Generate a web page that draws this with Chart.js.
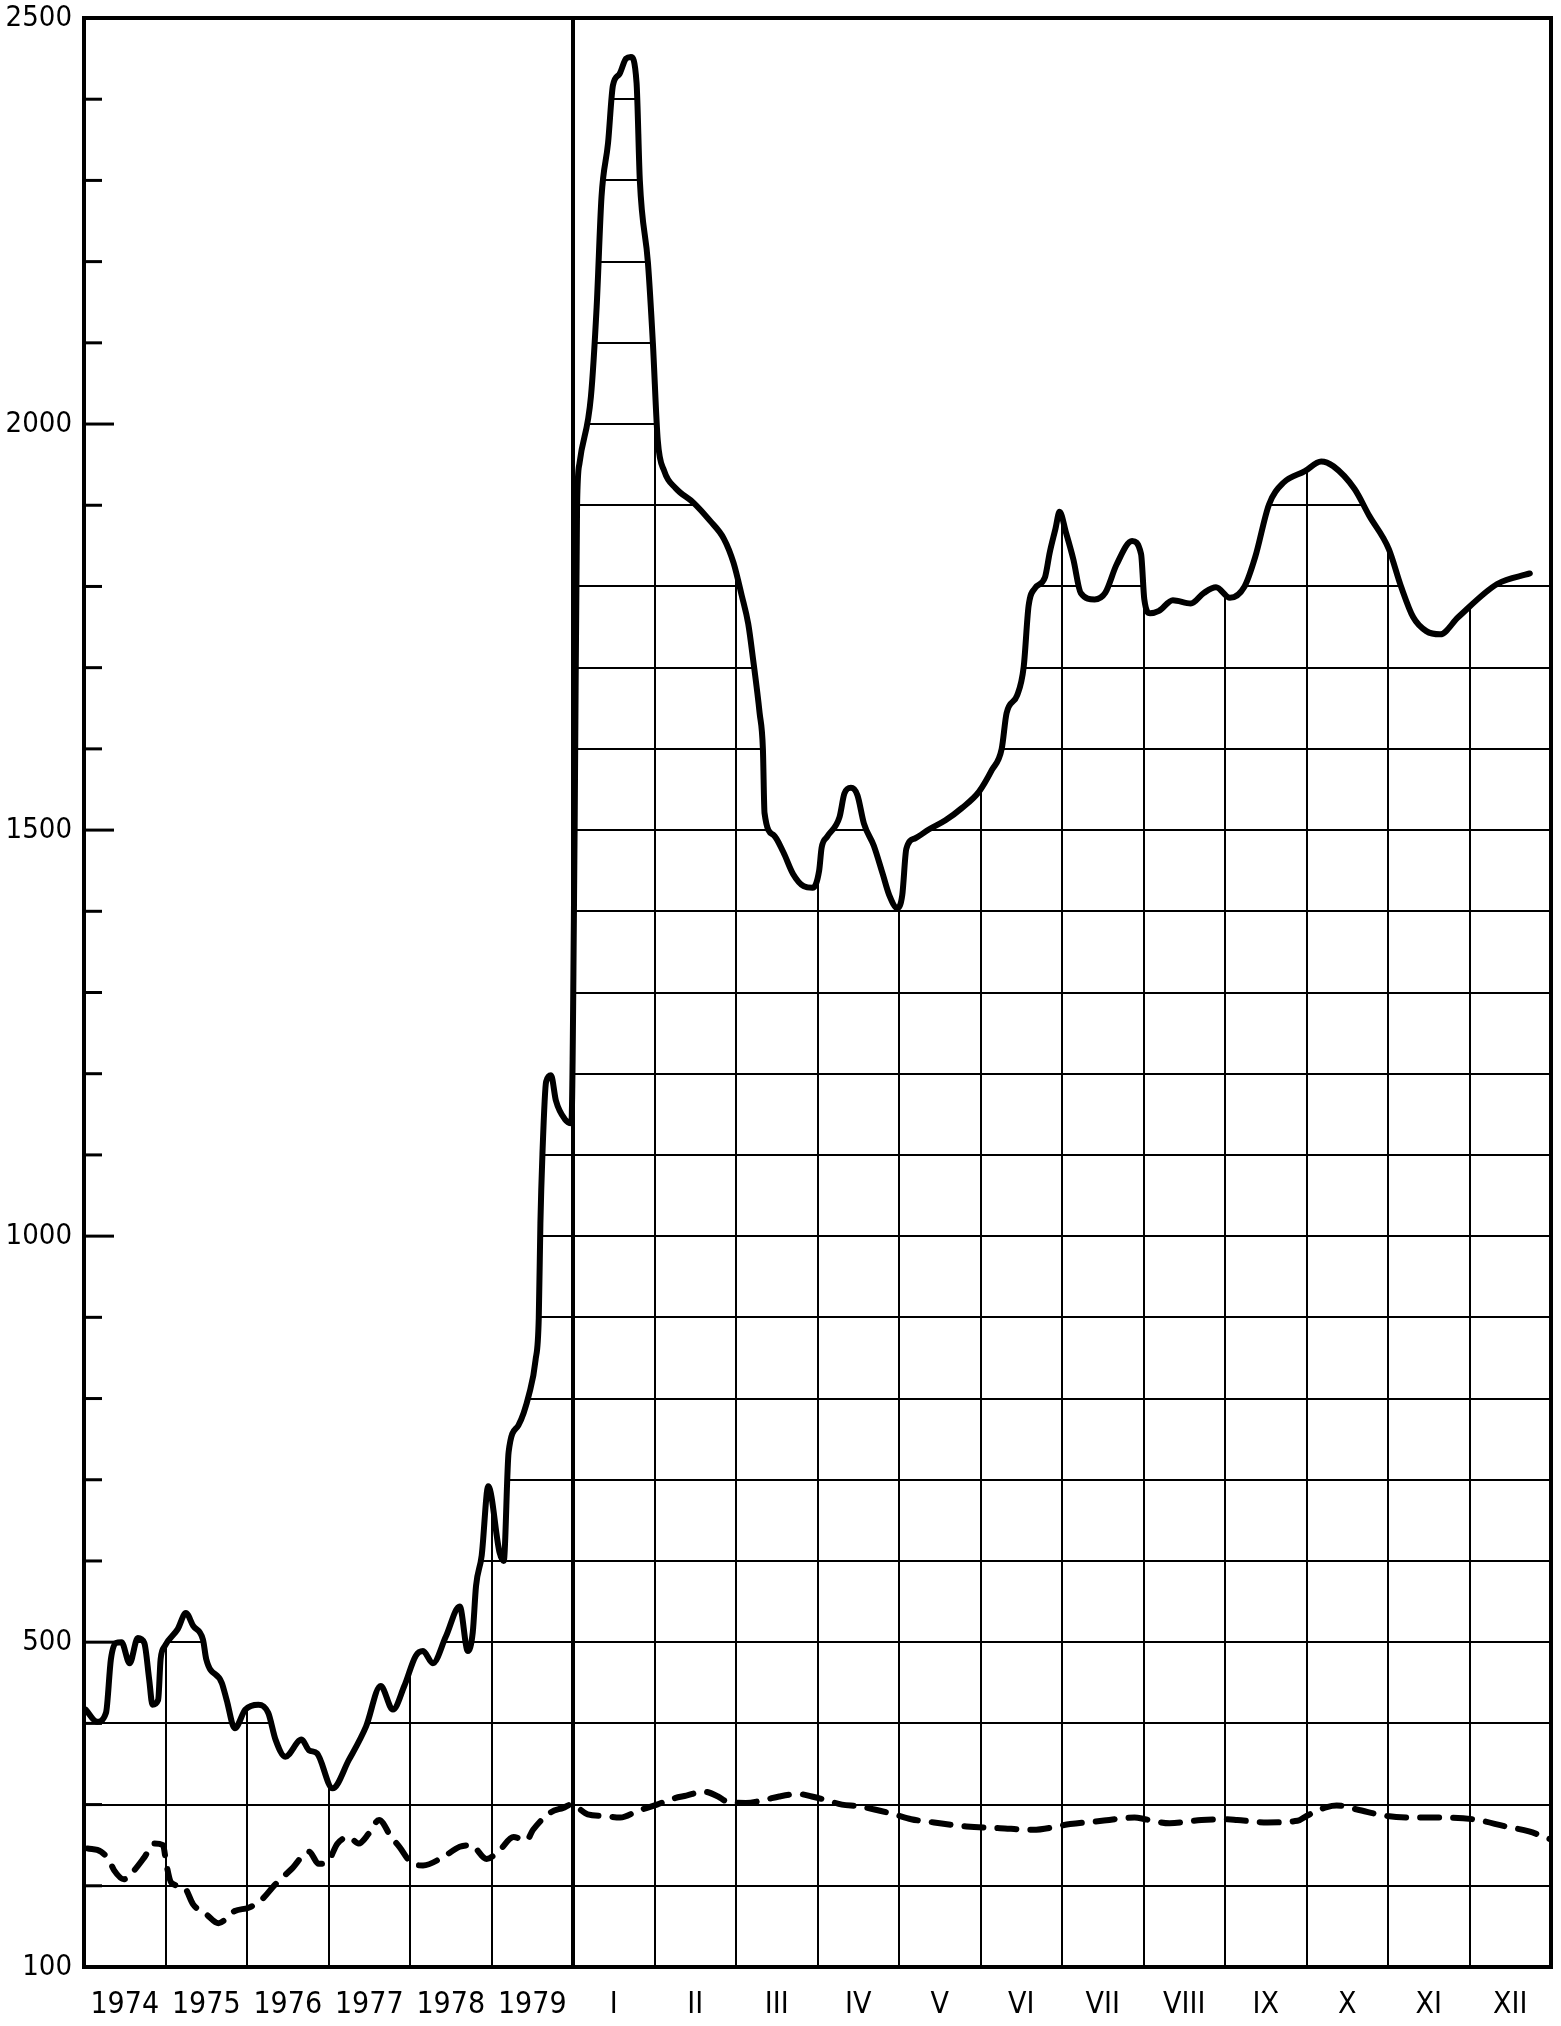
<!doctype html>
<html>
<head>
  <meta charset="utf-8">
  <title>1974–1979 and monthly curve</title>
  <script src="https://cdn.jsdelivr.net/npm/chart.js@4.4.1/dist/chart.umd.min.js"></script>
  <style>
    body{margin:0;background:#fff;}
    #chart{display:block;}
  </style>
</head>
<body>
<canvas id="chart" width="1561" height="2026"></canvas>

<script>
// ---- categories / tick labels ----
const yearLabels  = ['1974','1975','1976','1977','1978','1979'];
const monthLabels = ['I','II','III','IV','V','VI','VII','VIII','IX','X','XI','XII'];
const xLabels     = yearLabels.concat(monthLabels);          // one column each
const yLabels     = [100, 500, 1000, 1500, 2000, 2500];

// ---- solid curve (x = column position, 0..18) ----
const solidCol = [
  0.02,0.16,0.27,0.33,0.39,0.46,0.56,0.66,0.74,0.80,0.84,0.91,0.94,0.99,
  1.15,1.25,1.34,1.46,1.50,1.69,1.75,1.85,1.98,2.14,2.26,2.35,2.47,2.67,
  2.76,2.86,3.05,3.25,3.46,3.64,3.79,3.93,4.07,4.16,4.28,4.44,4.61,4.71,
  4.77,4.81,4.88,4.96,5.10,5.15,5.21,5.33,5.46,5.54,5.58,5.60,5.625,5.67,
  5.73,5.79,5.90,5.98,
  6.02,6.05,6.08,6.22,6.29,6.35,6.43,6.49,6.57,6.65,6.71,6.78,6.82,6.92,
  6.98,7.04,7.12,7.26,7.48,7.68,7.85,7.97,8.07,8.15,8.21,8.29,8.33,8.35,
  8.46,8.58,8.70,8.83,8.94,9.02,9.05,9.12,9.27,9.33,9.41,9.49,9.57,9.69,
  9.80,9.88,9.98,10.04,10.09,10.20,10.37,10.57,10.77,10.98,11.14,11.26,
  11.32,11.45,11.53,11.59,11.67,11.79,11.85,11.92,11.97,12.05,12.14,12.23,
  12.40,12.53,12.67,12.86,12.97,13.01,13.08,13.19,13.36,13.58,13.74,13.89,
  14.06,14.24,14.37,14.54,14.72,14.98,15.18,15.33,15.59,15.77,16.01,16.16,
  16.31,16.47,16.64,16.86,17.34,17.74
];
const solidVal = [
  417,402,413,479,499,500,474,505,499,454,423,429,479,495,
  516,536,520,503,479,450,429,394,417,423,413,380,359,380,
  367,363,320,355,396,446,417,446,483,489,474,507,544,489,
  512,569,607,692,610,600,734,767,805,847,899,1016,1101,1190,
  1198,1167,1144,1139,
  1500,1900,1952,2034,2144,2280,2346,2417,2431,2450,2452,2420,2300,2198,
  2100,1980,1942,1921,1903,1881,1859,1829,1789,1754,1710,1644,1600,1521,
  1494,1473,1446,1431,1429,1450,1478,1492,1516,1545,1552,1543,1508,1481,
  1446,1420,1404,1420,1477,1490,1501,1512,1527,1547,1574,1600,
  1644,1666,1701,1776,1798,1811,1842,1871,1892,1866,1833,1792,
  1784,1792,1827,1856,1840,1784,1767,1770,1783,1779,1792,1799,
  1786,1800,1836,1901,1928,1942,1954,1948,1920,1887,1846,1800,
  1762,1745,1741,1762,1803,1816
];

// ---- dashed curve ----
const dashCol = [
  0.04,0.21,0.31,0.37,0.49,0.58,0.74,0.86,0.97,1.01,1.07,1.23,1.34,1.50,
  1.65,1.85,2.02,2.16,2.35,2.55,2.76,2.88,3.00,3.11,3.25,3.37,3.50,3.62,
  3.77,3.87,4.01,4.16,4.40,4.61,4.75,4.94,5.10,5.27,5.43,5.51,5.72,5.88,
  5.98,6.18,6.38,6.58,6.79,7.03,7.25,7.39,7.60,7.78,7.88,8.12,8.36,8.53,
  8.77,8.93,9.09,9.30,9.50,9.70,9.94,10.15,10.43,10.83,11.24,11.64,12.10,
  12.49,12.89,13.02,13.32,13.71,14.03,14.15,14.52,14.89,15.00,15.25,15.37,
  15.62,15.98,16.31,16.67,17.04,17.45,17.73,18.00
];
const dashVal = [
  246,242,231,219,208,215,235,252,250,227,204,198,177,165,
  154,169,173,181,202,221,242,227,231,252,260,252,265,281,
  260,248,229,225,235,248,250,233,244,260,256,269,290,296,
  300,288,286,284,292,300,308,311,316,310,304,302,306,310,
  313,310,306,300,298,294,288,282,278,273,271,269,276,
  280,284,282,277,281,282,281,278,280,286,297,299,
  294,286,284,284,282,273,267,257
];

const FONT = "'Liberation Sans Narrow','DejaVu Sans Condensed','Arial Narrow',sans-serif";

// the grid only shows under the solid curve: blank it out past both ends of the curve
const blankPlugin = {
  id: 'blank',
  beforeDatasetsDraw(chart) {
    const {ctx, chartArea: a} = chart;
    const pts = chart.getDatasetMeta(0).data;
    const first = pts[0], last = pts[pts.length - 1];
    ctx.save();
    ctx.fillStyle = '#fff';
    ctx.fillRect(a.left, a.top, first.x - a.left, first.y - a.top);
    ctx.fillRect(last.x - 1, a.top, a.right - last.x + 2, last.y - a.top);
    ctx.restore();
  }
};

// inward ticks, column separator and the frame, drawn over the datasets
const framePlugin = {
  id: 'frame',
  afterDatasetsDraw(chart) {
    const {ctx, chartArea: a, scales: {x, y}} = chart;
    const line = (x1, y1, x2, y2) => { ctx.beginPath(); ctx.moveTo(x1, y1); ctx.lineTo(x2, y2); ctx.stroke(); };
    ctx.save();
    ctx.strokeStyle = '#000';
    ctx.lineWidth = 3;
    y.ticks.forEach(t => {
      const py = y.getPixelForValue(t.value);
      line(a.left, py, a.left + (yLabels.includes(t.value) ? 30 : 18), py);
    });
    ctx.lineWidth = 4;
    const sx = x.getPixelForValue(yearLabels.length);
    line(sx, a.top, sx, a.bottom);
    ctx.strokeRect(a.left, a.top, a.right - a.left, a.bottom - a.top);
    ctx.restore();
  }
};

new Chart(document.getElementById('chart'), {
  type: 'line',
  data: {
    datasets: [
      { // solid curve; white fill above it hides the grid there
        data: solidCol.map((c, i) => ({x: c, y: solidVal[i]})),
        borderColor: '#000', borderWidth: 6,
        backgroundColor: '#fff', fill: 'end',
        pointRadius: 0, cubicInterpolationMode: 'monotone',
        borderJoinStyle: 'round', borderCapStyle: 'round'
      },
      { // dashed curve
        data: dashCol.map((c, i) => ({x: c, y: dashVal[i]})),
        borderColor: '#000', borderWidth: 6,
        borderDash: [19, 14], borderCapStyle: 'round',
        fill: false, pointRadius: 0, cubicInterpolationMode: 'monotone'
      }
    ]
  },
  options: {
    responsive: false,
    animation: false,
    layout: {padding: {top: 18, right: 10}},
    plugins: {legend: {display: false}, tooltip: {enabled: false}},
    scales: {
      x: {
        type: 'linear', min: 0, max: xLabels.length,
        afterBuildTicks: ax => {
          ax.ticks = [];
          for (let i = 0; i <= xLabels.length * 2; i++) ax.ticks.push({value: i / 2});
        },
        ticks: {
          autoSkip: false, maxRotation: 0, minRotation: 0, color: '#000', padding: 20,
          font: {family: FONT, size: 30},
          callback: v => Number.isInteger(v) ? '' : xLabels[Math.floor(v)]
        },
        grid: {
          color: c => Number.isInteger(c.tick.value) ? '#000' : 'rgba(0,0,0,0)',
          lineWidth: 2, drawTicks: false
        },
        border: {display: false},
        afterFit: s => { s.height = 59; s.paddingLeft = 0; s.paddingRight = 0; }
      },
      y: {
        type: 'linear', min: 100, max: 2500,
        ticks: {
          stepSize: 100, autoSkip: false, color: '#000', padding: 12,
          font: {family: FONT, size: 29},
          callback: v => yLabels.includes(v) ? String(v) : ''
        },
        grid: {color: '#000', lineWidth: 2, drawTicks: false},
        border: {display: false},
        afterFit: s => { s.width = 84; s.paddingTop = 0; s.paddingBottom = 0; }
      }
    }
  },
  plugins: [blankPlugin, framePlugin]
});
</script>
</body>
</html>
